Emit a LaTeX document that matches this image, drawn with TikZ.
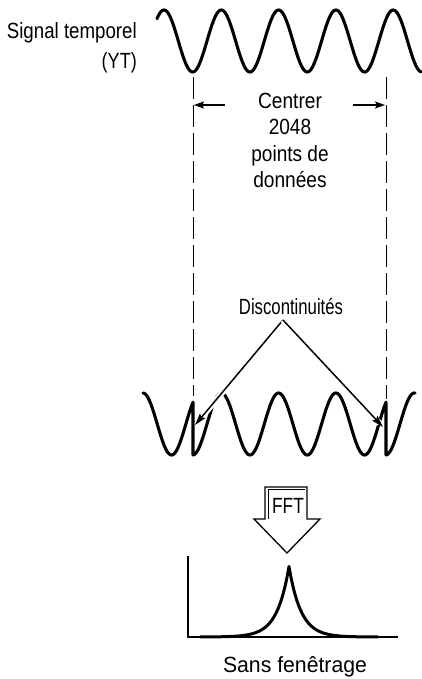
\documentclass[tikz,border=0pt]{standalone}
\usepackage{fontspec}
\setmainfont{Liberation Sans}
\usepackage{graphicx}
\usetikzlibrary{arrows.meta}
\newcommand{\hs}[2]{\scalebox{#1}[1]{#2}}
\begin{document}
\begin{tikzpicture}[x=1pt,y=-1pt,
  wave/.style={line width=3.1pt, line join=round, line cap=round},
  guide/.style={line width=0.9pt, dash pattern=on 22pt off 6pt},
  lbl/.style={inner sep=0pt, font=\fontsize{22}{26.5}\selectfont},
  carrow/.style={line width=1.4pt, -{Stealth[length=10pt,width=7pt,inset=2pt]}},
  darrow/.style={line width=1.5pt, -{Stealth[length=12pt,width=7pt,inset=2pt]},
     preaction={draw=white, line width=6pt, -, shorten >=5pt}},
  axisline/.style={line width=1.6pt},
  spec/.style={line width=3pt, line join=round},
  fftbox/.style={line width=1.3pt, line join=miter}
]
\useasboundingbox (0,0) rectangle (421,679);

% ---- top signal
\draw[wave] plot[domain=157:421, samples=265] (\x,{41-31*cos(6.2827*(\x-164))});
\node[lbl, anchor=north east] (sig) at (137,19.5)
  {\begin{tabular}{@{}r@{}}\hs{0.85}{Signal temporel}\\[4pt]\hs{0.82}{(YT)}\end{tabular}};

% ---- guide lines
\coordinate (gl1) at (193,77);
\coordinate (gl2) at (193,396);
\coordinate (gr1) at (386,77);
\coordinate (gr2) at (386,399);
\draw[guide] (gl1) -- (gl2);
\draw[guide] (gr1) -- (gr2);

% ---- centre label and arrows
\node[lbl, anchor=north] (ctr) at (290,89.5)
  {\begin{tabular}{@{}c@{}}\hs{0.87}{Centrer}\\\hs{0.865}{2048}\\\hs{0.866}{points de}\\\hs{0.87}{données}\end{tabular}};
\coordinate (cla) at (225,105);
\coordinate (clt) at (194,105);
\coordinate (cra) at (353,105);
\coordinate (crt) at (385,105);
\draw[carrow] (cla) -- (clt);
\draw[carrow] (cra) -- (crt);

% ---- lower (repeated window) signal
\draw[wave] plot[domain=143:193, samples=60] (\x,{424-31*cos(6.2827*(\x+29))})
  -- (193,455)
  -- plot[domain=193:386, samples=200] (\x,{424-31*cos(6.2827*(\x-164))})
  -- (386,455)
  -- plot[domain=386:415, samples=40] (\x,{424-31*cos(6.2827*(\x-357))});

% ---- discontinuities
\node[lbl, anchor=base] (disc) at (291,314) {\hs{0.76}{Discontinuités}};
\coordinate (apex) at (283,320);
\coordinate (ltip) at (195,425);
\coordinate (rtip) at (383,427);
\draw[darrow] (apex) -- (ltip);
\draw[darrow] (apex) -- (rtip);

% ---- FFT block arrow
\draw[fftbox] (265,487) -- (307,487) -- (307,519) -- (320,519) -- (287,553)
  -- (254,519) -- (265,519) -- cycle;
\draw[line width=0.9pt] (268.5,519) -- (268.5,489.5) -- (305,489.5);
\node[lbl, anchor=base] (fft) at (288,513) {\hs{0.79}{FFT}};

% ---- spectrum
\coordinate (ytop) at (188,556);
\coordinate (orig) at (188,637);
\coordinate (xend) at (398,637);
\draw[axisline] (ytop) -- (orig) -- (xend);
\draw[spec] plot[domain=200:378, samples=357] (\x,{637-70.5*exp(-abs(\x-289)/12)});
\node[lbl, anchor=base] (cap) at (295,672) {\hs{0.965}{Sans fenêtrage}};
\end{tikzpicture}
\end{document}
